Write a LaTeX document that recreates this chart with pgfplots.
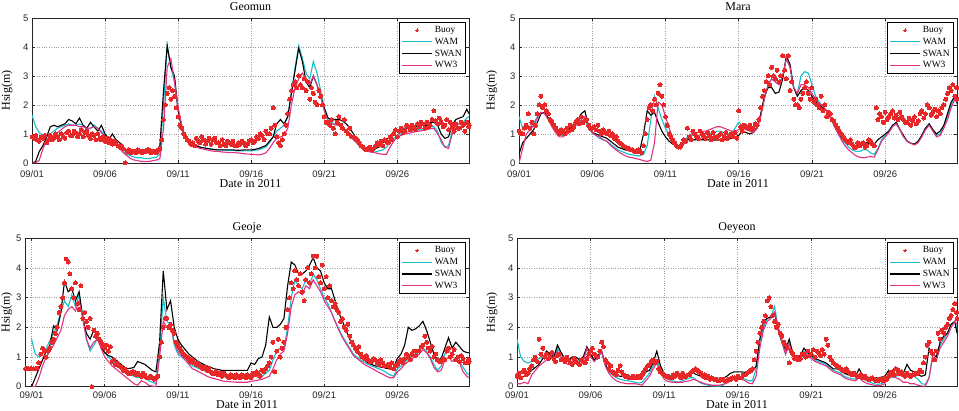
\documentclass[border=0pt]{standalone}
\usepackage{fontspec}
\setmainfont{Liberation Serif}
\newfontfamily\ticksans{Liberation Sans}
\usepackage{pgfplots}
\usepackage{pgfplotstable}
\pgfplotsset{compat=1.18}
\definecolor{buoyred}{RGB}{232,40,40}
\definecolor{wamc}{RGB}{20,190,205}
\definecolor{ww3c}{RGB}{225,50,130}

\pgfplotstableread{
t w s m b1 b2
0.00 1.65 0.00 0.00 0.90 0.85
0.25 1.25 0.05 0.00 0.95 0.80
0.50 1.05 0.40 0.10 0.75 0.90
0.75 0.95 0.60 0.50 0.85 0.95
1.00 0.90 0.90 0.75 0.70 0.80
1.25 1.00 1.25 0.85 0.95 0.80
1.50 1.10 1.30 0.95 0.85 1.00
1.75 1.20 1.25 1.05 0.90 0.80
2.00 1.25 1.30 1.15 1.00 0.90
2.25 1.30 1.35 1.25 0.85 1.05
2.50 1.35 1.50 1.30 1.10 0.95
2.75 1.30 1.45 1.30 0.95 1.10
3.00 1.30 1.35 1.30 1.05 0.90
3.25 1.35 1.55 1.25 1.00 1.15
3.50 1.30 1.30 1.25 0.90 1.05
3.75 1.15 1.20 1.20 1.10 0.95
4.00 1.20 1.40 1.20 0.85 1.00
4.25 1.30 1.25 1.25 0.95 0.80
4.50 1.20 1.10 1.20 1.00 0.85
4.75 1.10 1.30 1.05 0.80 0.90
5.00 0.95 1.00 0.90 0.75 0.85
5.25 0.90 0.80 0.80 0.70 0.80
5.50 0.80 1.00 0.75 0.65 0.75
5.75 0.70 0.80 0.65 0.70 0.60
6.00 0.55 0.70 0.50 0.55 0.60
6.25 0.40 0.50 0.35 0.50 0.00
6.50 0.30 0.40 0.25 0.40 0.45
6.75 0.25 0.40 0.15 0.35 0.40
7.00 0.20 0.38 0.10 0.40 0.35
7.25 0.18 0.40 0.08 0.45 0.40
7.50 0.18 0.40 0.05 0.35 0.40
7.75 0.15 0.42 0.05 0.40 0.45
8.00 0.15 0.40 0.05 0.45 0.35
8.25 0.18 0.40 0.08 0.40 0.40
8.50 0.20 0.42 0.10 0.35 0.45
8.75 0.30 0.60 0.15 0.50 0.80
9.00 2.00 2.50 1.20 1.50 2.00
9.25 4.05 4.05 3.30 2.40 2.60
9.50 3.30 3.30 3.60 2.20 2.50
9.75 2.80 3.00 2.80 2.30 1.90
10.00 1.80 1.80 1.90 1.60 1.30
10.25 1.20 1.20 1.30 1.20 1.00
10.50 0.85 0.90 0.90 0.90 0.80
10.75 0.72 0.75 0.75 0.75 0.65
11.00 0.65 0.65 0.65 0.70 0.60
11.25 0.60 0.60 0.55 0.85 0.75
11.50 0.55 0.55 0.50 0.70 0.90
11.75 0.52 0.52 0.48 0.80 0.65
12.00 0.50 0.50 0.45 0.75 0.85
12.25 0.48 0.48 0.42 0.65 0.80
12.50 0.46 0.46 0.40 0.85 0.70
12.75 0.45 0.45 0.40 0.70 0.60
13.00 0.45 0.45 0.38 0.80 0.65
13.25 0.44 0.45 0.37 0.60 0.75
13.50 0.43 0.45 0.36 0.70 0.65
13.75 0.43 0.45 0.36 0.75 0.60
14.00 0.42 0.44 0.35 0.60 0.70
14.25 0.42 0.44 0.34 0.65 0.75
14.50 0.42 0.45 0.32 0.70 0.60
14.75 0.42 0.45 0.31 0.65 0.75
15.00 0.42 0.45 0.30 0.80 0.70
15.25 0.44 0.47 0.29 0.75 0.90
15.50 0.45 0.50 0.28 0.85 1.00
15.75 0.50 0.55 0.30 0.95 0.80
16.00 0.55 0.60 0.35 1.10 1.00
16.25 0.70 0.75 0.50 1.00 1.20
16.50 0.90 0.90 0.70 1.90 1.30
16.75 1.10 1.35 0.85 0.90 0.70
17.00 1.20 1.50 0.90 0.60 0.80
17.25 1.30 1.35 0.95 1.00 1.30
17.50 1.60 1.60 1.20 1.70 2.20
17.75 2.40 2.40 2.00 2.50 2.70
18.00 3.30 3.20 2.60 2.80 2.60
18.25 4.05 3.95 2.90 3.00 2.70
18.50 3.60 3.50 3.10 2.60 2.90
18.75 3.10 2.80 2.90 2.50 2.80
19.00 2.90 2.60 2.70 2.20 2.60
19.25 3.50 3.00 3.00 2.40 2.10
19.50 3.10 2.70 2.70 2.00 2.50
19.75 2.50 2.30 2.30 2.30 2.00
20.00 1.90 1.90 1.80 1.60 1.40
20.25 1.55 1.55 1.45 1.40 1.30
20.50 1.40 1.50 1.35 1.50 1.20
20.75 1.32 1.50 1.32 1.00 1.40
21.00 1.30 1.50 1.30 1.60 1.30
21.25 1.20 1.45 1.20 1.20 1.50
21.50 1.10 1.35 1.10 1.10 1.00
21.75 0.95 1.20 0.95 1.20 0.90
22.00 0.80 1.00 0.80 0.90 0.85
22.25 0.68 0.80 0.68 0.80 0.70
22.50 0.55 0.65 0.55 0.60 0.55
22.75 0.45 0.50 0.45 0.50 0.45
23.00 0.40 0.45 0.40 0.50 0.55
23.25 0.38 0.45 0.37 0.45 0.50
23.50 0.38 0.50 0.35 0.60 0.70
23.75 0.42 0.55 0.32 0.65 0.75
24.00 0.45 0.70 0.30 0.60 0.80
24.25 0.55 0.80 0.30 0.75 0.70
24.50 0.70 0.90 0.55 0.90 0.80
24.75 0.85 1.10 0.75 1.00 1.15
25.00 0.95 1.10 0.90 0.90 1.10
25.25 1.00 1.20 0.95 1.20 1.05
25.50 1.05 1.20 1.00 1.10 1.30
25.75 1.08 1.20 1.02 1.25 1.15
26.00 1.10 1.25 1.05 1.30 1.20
26.25 1.12 1.25 1.08 1.15 1.35
26.50 1.15 1.25 1.10 1.25 1.40
26.75 1.18 1.30 1.12 1.35 1.20
27.00 1.20 1.30 1.15 1.40 1.25
27.25 1.25 1.40 1.18 1.30 1.50
27.50 1.25 1.40 1.20 1.80 1.45
27.75 1.10 1.30 1.00 1.35 1.55
28.00 0.70 1.00 0.80 1.40 1.25
28.25 0.55 0.85 0.55 1.30 1.50
28.50 0.60 0.90 0.50 1.15 1.40
28.75 1.10 1.30 1.00 1.25 1.10
29.00 1.30 1.50 1.30 1.35 1.20
29.25 1.35 1.55 1.35 1.20 1.40
29.50 1.40 1.60 1.40 1.30 1.10
29.75 1.55 1.85 1.40 1.40 1.25
29.90 1.60 1.70 1.40 1.30 1.30
}\geomun

\pgfplotstableread{
t w s m b1 b2
0.00 1.60 0.30 0.00 1.10 1.00
0.25 1.20 0.70 0.50 1.00 1.20
0.50 1.20 0.85 1.00 1.30 1.70
0.75 1.25 1.00 1.15 1.20 1.40
1.00 1.35 1.15 1.30 1.00 1.30
1.25 1.60 1.40 1.55 1.70 2.00
1.50 1.75 1.70 1.75 2.30 1.90
1.75 1.70 1.75 1.70 2.00 1.80
2.00 1.50 1.55 1.50 1.70 1.50
2.25 1.30 1.35 1.25 1.40 1.30
2.50 1.10 1.15 1.05 1.20 1.10
2.75 0.95 1.05 0.90 1.00 1.15
3.00 0.95 1.00 0.90 1.10 1.00
3.25 1.05 1.10 1.00 1.20 1.10
3.50 1.20 1.20 1.10 1.30 1.15
3.75 1.30 1.35 1.25 1.25 1.40
4.00 1.40 1.45 1.35 1.50 1.35
4.25 1.45 1.70 1.50 1.60 1.40
4.50 1.50 1.80 1.60 1.45 1.50
4.75 1.20 1.25 1.25 1.30 1.20
5.00 1.05 1.05 1.05 1.20 1.25
5.25 0.95 1.00 0.95 1.15 1.30
5.50 0.85 0.95 0.90 1.10 1.00
5.75 0.80 0.90 0.80 1.15 1.05
6.00 0.75 0.85 0.75 1.00 1.10
6.25 0.65 0.75 0.60 0.95 1.00
6.50 0.55 0.65 0.50 0.85 0.90
6.75 0.45 0.55 0.40 0.75 0.70
7.00 0.40 0.50 0.32 0.65 0.60
7.25 0.35 0.45 0.25 0.55 0.50
7.50 0.30 0.42 0.20 0.50 0.45
7.75 0.28 0.40 0.18 0.45 0.40
8.00 0.25 0.38 0.15 0.40 0.45
8.25 0.25 0.45 0.12 0.40 0.35
8.50 0.30 1.00 0.08 0.60 1.00
8.75 0.60 1.80 0.05 1.50 1.90
9.00 1.50 1.65 0.10 2.00 1.80
9.25 2.30 1.75 0.70 2.20 2.00
9.50 1.90 1.40 2.10 2.40 2.70
9.75 1.50 1.10 2.00 2.30 2.00
10.00 1.20 0.90 1.60 1.60 1.30
10.25 0.95 0.75 1.20 1.00 0.90
10.50 0.75 0.65 0.85 0.80 0.70
10.75 0.60 0.60 0.60 0.60 0.55
11.00 0.55 0.60 0.50 0.55 0.65
11.25 0.70 0.75 0.65 0.80 0.75
11.50 0.90 0.80 0.85 1.20 0.90
11.75 0.95 0.80 1.00 0.80 1.10
12.00 0.95 0.80 1.05 1.00 0.90
12.25 0.95 0.80 1.05 0.85 1.10
12.50 0.95 0.80 1.10 1.00 0.90
12.75 1.00 0.80 1.10 0.85 1.05
13.00 1.00 0.80 1.15 0.95 0.80
13.25 1.05 0.80 1.20 1.05 0.90
13.50 1.10 0.78 1.25 0.85 0.95
13.75 1.10 0.80 1.25 1.00 0.80
14.00 1.05 0.80 1.20 0.90 1.05
14.25 1.00 0.82 1.15 0.85 0.95
14.50 1.00 0.85 1.10 1.00 0.90
14.75 1.20 0.90 1.10 1.05 0.85
15.00 1.40 0.95 1.15 1.80 1.25
15.25 1.30 1.10 1.20 1.10 1.30
15.50 1.20 1.05 1.15 1.25 1.20
15.75 1.15 1.00 1.10 1.30 1.15
16.00 1.10 1.05 1.05 1.20 1.35
16.25 1.20 1.20 1.20 1.30 1.50
16.50 1.60 1.70 1.60 1.90 2.30
16.75 2.20 2.30 2.20 2.50 2.80
17.00 2.70 2.60 2.70 3.00 2.70
17.25 2.90 2.60 2.90 3.30 3.00
17.50 2.80 2.40 2.80 2.90 3.20
17.75 2.70 2.45 2.70 2.80 3.00
18.00 3.00 2.90 3.00 3.70 3.20
18.25 3.60 3.70 3.60 2.90 3.70
18.50 3.30 3.40 3.30 2.50 2.80
18.75 2.60 2.60 2.60 2.20 2.00
19.00 2.40 2.30 2.40 2.00 1.90
19.25 3.00 2.50 2.70 2.20 2.40
19.50 3.15 2.60 2.70 2.60 2.80
19.75 3.10 2.50 2.60 2.40 2.20
20.00 2.70 2.30 2.40 2.60 2.10
20.25 2.30 2.10 2.20 2.20 2.00
20.50 2.10 2.00 2.05 1.90 2.30
20.75 1.95 1.90 1.95 1.80 2.00
21.00 1.80 1.80 1.80 1.60 1.75
21.25 1.55 1.60 1.60 1.70 1.50
21.50 1.30 1.35 1.30 1.45 1.30
21.75 1.05 1.10 1.05 1.20 1.10
22.00 0.85 0.90 0.80 1.00 0.90
22.25 0.70 0.75 0.60 0.80 0.75
22.50 0.55 0.65 0.45 0.70 0.80
22.75 0.45 0.60 0.35 0.65 0.55
23.00 0.40 0.60 0.25 0.55 0.70
23.25 0.40 0.65 0.20 0.60 0.65
23.50 0.45 0.70 0.18 0.70 0.55
23.75 0.45 0.70 0.20 0.60 0.80
24.00 0.35 0.65 0.22 0.75 0.65
24.25 0.30 0.65 0.20 0.60 1.90
24.50 0.50 0.80 0.45 1.50 1.70
24.75 0.80 0.90 0.75 1.60 1.40
25.00 0.95 1.00 0.90 1.75 1.50
25.25 1.10 1.10 1.05 1.60 1.70
25.50 1.30 1.30 1.25 1.80 1.55
25.75 1.40 1.40 1.35 1.65 1.50
26.00 1.15 1.15 1.15 1.75 1.60
26.25 0.90 0.95 0.90 1.50 1.40
26.50 0.75 0.75 0.75 1.40 1.55
26.75 0.68 0.68 0.68 1.30 1.45
27.00 0.65 0.65 0.62 1.60 1.35
27.25 0.75 0.75 0.70 1.45 1.70
27.50 0.95 0.95 0.90 1.80 1.55
27.75 1.20 1.20 1.15 1.70 2.00
28.00 1.35 1.35 1.30 1.90 1.65
28.25 1.15 1.15 1.10 1.75 1.85
28.50 0.95 1.00 0.90 1.60 1.80
28.75 1.00 1.10 0.95 1.70 1.90
29.00 1.25 1.30 1.20 2.00 2.20
29.25 1.60 1.70 1.50 2.40 2.60
29.50 2.00 2.10 1.90 2.50 2.70
29.75 2.30 2.30 2.20 2.30 2.60
29.90 2.10 2.05 2.10 2.20 2.00
}\mara

\pgfplotstableread{
t w s m b1 b2
0.00 1.60 0.00 0.00 0.60 0.60
0.25 1.10 0.30 0.00 0.60 0.62
0.50 1.00 0.60 0.30 0.80 1.10
0.75 1.10 0.90 0.70 1.30 1.20
1.00 1.30 1.20 1.00 1.00 1.20
1.25 1.55 1.40 1.20 1.30 1.50
1.50 1.80 2.05 1.40 1.60 1.80
1.75 2.10 1.90 1.65 2.00 2.50
2.00 2.50 2.50 1.90 2.70 3.00
2.25 2.90 3.55 2.40 3.50 4.30
2.50 2.70 3.20 2.60 4.20 3.80
2.75 3.10 3.30 2.70 3.30 3.00
3.00 2.70 2.90 2.55 3.50 2.80
3.25 3.10 3.20 2.90 2.60 3.40
3.50 2.40 2.30 2.30 2.30 2.50
3.75 1.60 1.80 1.60 2.20 2.00
4.00 1.20 1.60 1.30 2.30 0.00
4.25 1.40 1.90 1.50 1.90 1.70
4.50 1.60 1.75 1.60 1.80 1.60
4.75 1.35 1.30 1.30 1.50 1.40
5.00 1.15 1.15 1.00 1.30 1.40
5.25 1.00 1.05 0.85 1.20 1.35
5.50 0.90 1.00 0.70 0.85 0.90
5.75 0.80 0.90 0.60 0.75 0.80
6.00 0.70 0.80 0.50 0.70 0.65
6.25 0.60 0.70 0.40 0.55 0.60
6.50 0.50 0.60 0.30 0.50 0.45
6.75 0.42 0.62 0.20 0.45 0.50
7.00 0.35 0.65 0.10 0.50 0.40
7.25 0.30 0.85 0.05 0.45 0.40
7.50 0.40 0.80 0.20 0.35 0.45
7.75 0.35 0.75 0.15 0.40 0.30
8.00 0.20 0.65 0.05 0.30 0.35
8.25 0.15 0.55 0.02 0.30 0.25
8.50 0.10 0.50 0.00 0.30 0.35
8.75 1.20 1.50 1.00 1.00 1.50
9.00 3.00 3.90 2.20 2.00 2.30
9.25 2.20 2.60 2.00 2.30 2.00
9.50 2.10 2.90 2.10 2.10 1.90
9.75 1.40 2.00 1.50 1.80 1.50
10.00 1.10 1.60 1.20 1.40 1.30
10.25 1.00 1.40 1.05 1.20 1.10
10.50 0.90 1.25 0.90 1.05 1.00
10.75 0.80 1.10 0.75 0.95 0.85
11.00 0.70 1.00 0.60 0.90 0.80
11.25 0.65 0.90 0.55 0.75 0.80
11.50 0.60 0.82 0.48 0.70 0.65
11.75 0.55 0.75 0.42 0.60 0.65
12.00 0.50 0.70 0.35 0.55 0.60
12.25 0.45 0.65 0.30 0.50 0.45
12.50 0.42 0.60 0.27 0.45 0.50
12.75 0.38 0.58 0.24 0.40 0.45
13.00 0.35 0.55 0.20 0.35 0.45
13.25 0.33 0.55 0.18 0.40 0.35
13.50 0.32 0.55 0.17 0.30 0.40
13.75 0.31 0.55 0.16 0.35 0.30
14.00 0.30 0.55 0.15 0.40 0.35
14.25 0.30 0.55 0.15 0.30 0.40
14.50 0.30 0.55 0.15 0.35 0.30
14.75 0.30 0.55 0.15 0.40 0.35
15.00 0.35 0.80 0.18 0.30 0.45
15.25 0.40 0.75 0.20 0.40 0.50
15.50 0.30 0.95 0.22 0.45 0.35
15.75 0.35 1.00 0.25 0.55 0.50
16.00 0.45 1.40 0.30 0.60 0.70
16.25 0.55 2.35 0.35 0.80 1.00
16.50 0.90 2.00 0.60 1.50 0.50
16.75 1.20 2.00 0.90 1.20 1.60
17.00 1.30 2.10 1.10 1.00 1.30
17.25 1.25 2.30 1.20 1.50 2.00
17.50 2.00 3.40 1.80 2.60 3.00
17.75 3.00 4.20 2.70 3.50 3.30
18.00 3.60 4.10 3.10 3.90 3.60
18.25 3.40 3.80 3.20 3.40 3.80
18.50 3.30 3.80 3.10 3.20 2.90
18.75 3.60 3.90 3.40 3.60 4.00
19.00 3.40 4.10 3.30 3.50 3.80
19.25 3.80 4.35 3.60 4.40 4.00
19.50 3.60 4.00 3.40 4.40 3.70
19.75 3.30 3.90 3.20 3.50 4.10
20.00 3.00 3.50 2.90 3.30 3.70
20.25 2.80 3.30 2.70 3.00 3.40
20.50 2.50 3.30 2.50 2.90 2.70
20.75 2.20 2.90 2.20 2.80 2.60
21.00 1.95 2.50 1.90 2.50 2.20
21.25 1.70 2.20 1.65 2.30 2.00
21.50 1.50 1.90 1.45 1.90 2.10
21.75 1.30 1.60 1.25 1.70 1.50
22.00 1.10 1.35 1.05 1.40 1.30
22.25 1.00 1.15 0.95 1.20 1.35
22.50 0.90 1.00 0.85 1.10 1.00
22.75 0.82 0.90 0.75 0.95 1.05
23.00 0.75 0.80 0.68 0.90 0.85
23.25 0.70 0.75 0.62 0.85 0.95
23.50 0.65 0.70 0.55 0.90 0.80
23.75 0.60 0.67 0.48 0.75 0.90
24.00 0.55 0.65 0.42 0.80 0.70
24.25 0.48 0.62 0.35 0.70 0.75
24.50 0.40 0.60 0.30 0.65 0.80
24.75 0.35 0.65 0.30 0.60 0.70
25.00 0.60 0.95 0.50 0.75 0.85
25.25 0.70 1.10 0.60 0.90 0.80
25.50 0.80 1.40 0.75 0.95 1.10
25.75 0.95 2.00 0.85 1.00 0.90
26.00 1.05 1.90 0.95 1.10 1.20
26.25 1.10 1.95 1.00 1.05 1.20
26.50 1.25 2.05 1.10 1.20 1.35
26.75 1.30 2.20 1.25 1.40 1.70
27.00 1.20 1.90 1.15 1.50 1.30
27.25 1.00 1.50 0.95 1.20 1.35
27.50 0.75 1.10 0.65 1.00 1.10
27.75 0.55 0.90 0.50 0.90 0.85
28.00 0.70 0.95 0.55 0.85 0.95
28.25 1.10 1.30 0.90 0.90 1.20
28.50 1.30 1.65 1.00 1.30 1.00
28.75 1.00 1.30 0.85 1.10 1.25
29.00 0.95 1.50 0.90 0.90 1.00
29.25 0.85 1.35 0.80 0.85 1.05
29.50 0.65 1.20 0.50 0.95 0.80
29.75 0.45 1.15 0.35 0.80 0.90
29.90 0.40 1.15 0.30 0.85 0.80
}\geoje

\pgfplotstableread{
t w s m b1 b2
0.00 1.60 0.30 0.10 0.35 0.45
0.25 1.00 0.35 0.10 0.30 0.50
0.50 0.85 0.35 0.15 0.55 0.40
0.75 0.80 0.45 0.10 0.45 0.60
1.00 0.85 0.55 0.40 0.70 0.90
1.25 0.90 0.65 0.55 1.00 0.85
1.50 0.95 0.75 0.70 1.60 1.10
1.75 1.00 0.95 0.80 1.30 1.00
2.00 1.05 1.20 0.90 1.10 0.95
2.25 1.10 1.10 1.00 1.00 1.15
2.50 1.00 1.00 0.95 0.95 0.85
2.75 1.30 1.40 1.20 1.05 1.10
3.00 1.10 1.15 1.00 0.90 0.95
3.25 0.90 0.95 0.80 0.85 1.00
3.50 0.85 0.90 0.75 0.90 0.80
3.75 0.95 1.00 0.85 0.75 0.95
4.00 0.90 1.00 0.80 0.85 0.80
4.25 0.85 0.90 0.75 0.75 0.90
4.50 0.90 1.00 0.85 0.85 0.80
4.75 1.30 1.35 1.30 0.95 1.10
5.00 1.05 1.10 1.00 1.20 1.30
5.25 0.85 0.90 0.85 1.10 1.05
5.50 1.00 1.05 1.00 1.00 1.20
5.75 1.15 1.20 1.20 1.50 1.35
6.00 0.70 0.75 0.70 0.90 0.80
6.25 0.50 0.55 0.45 0.60 0.70
6.50 0.40 0.45 0.30 0.50 0.45
6.75 0.30 0.40 0.20 0.40 0.55
7.00 0.25 0.35 0.15 0.70 0.50
7.25 0.22 0.35 0.12 0.40 0.35
7.50 0.20 0.35 0.10 0.35 0.30
7.75 0.18 0.35 0.10 0.30 0.35
8.00 0.15 0.35 0.10 0.30 0.30
8.25 0.12 0.38 0.08 0.35 0.30
8.50 0.15 0.40 0.05 0.40 0.50
8.75 0.30 0.50 0.20 0.60 0.70
9.00 0.45 0.55 0.35 0.75 0.85
9.25 0.70 0.80 0.60 0.90 0.80
9.50 0.90 1.20 0.80 0.85 0.60
9.75 0.60 0.70 0.50 0.50 0.45
10.00 0.35 0.45 0.25 0.40 0.35
10.25 0.25 0.38 0.18 0.35 0.30
10.50 0.20 0.35 0.15 0.30 0.40
10.75 0.18 0.35 0.15 0.35 0.45
11.00 0.15 0.35 0.15 0.40 0.30
11.25 0.20 0.38 0.15 0.45 0.35
11.50 0.25 0.40 0.18 0.35 0.40
11.75 0.30 0.45 0.20 0.40 0.50
12.00 0.30 0.45 0.25 0.55 0.60
12.25 0.20 0.40 0.20 0.55 0.50
12.50 0.12 0.35 0.15 0.45 0.35
12.75 0.08 0.30 0.10 0.40 0.30
13.00 0.05 0.28 0.08 0.35 0.25
13.25 0.03 0.25 0.05 0.30 0.25
13.50 0.02 0.25 0.05 0.25 0.20
13.75 0.02 0.25 0.05 0.20 0.25
14.00 0.05 0.28 0.08 0.25 0.20
14.25 0.15 0.35 0.12 0.20 0.25
14.50 0.30 0.45 0.20 0.25 0.30
14.75 0.35 0.50 0.25 0.30 0.25
15.00 0.35 0.50 0.25 0.35 0.30
15.25 0.30 0.50 0.25 0.30 0.40
15.50 0.25 0.48 0.20 0.40 0.45
15.75 0.20 0.45 0.12 0.50 0.55
16.00 0.20 0.50 0.10 0.60 0.90
16.25 0.60 0.70 0.35 1.20 1.50
16.50 1.50 1.60 1.30 1.80 2.00
16.75 2.00 2.20 1.90 2.20 2.40
17.00 2.30 2.30 2.20 2.90 3.00
17.25 2.35 2.35 2.30 2.70 2.40
17.50 2.70 2.50 2.50 2.20 2.00
17.75 2.00 1.90 2.00 2.10 1.80
18.00 1.50 1.50 1.50 1.70 1.50
18.25 1.10 1.25 1.10 1.40 1.30
18.50 1.50 1.60 1.45 0.80 1.20
18.75 1.10 1.10 1.00 1.10 0.95
19.00 0.90 0.95 0.85 1.00 0.90
19.25 1.00 1.05 0.95 0.95 1.10
19.50 1.20 1.30 1.15 1.10 1.00
19.75 1.10 1.15 1.05 1.20 1.05
20.00 1.00 1.05 0.95 1.10 1.25
20.25 0.90 0.95 0.85 1.00 1.20
20.50 0.85 0.90 0.80 1.15 1.05
20.75 0.80 0.85 0.75 1.25 1.10
21.00 0.75 0.80 0.70 1.60 1.40
21.25 0.65 0.70 0.60 1.00 0.90
21.50 0.55 0.60 0.50 0.80 0.75
21.75 0.50 0.60 0.45 0.70 0.65
22.00 0.45 0.55 0.40 0.60 0.55
22.25 0.35 0.45 0.30 0.55 0.60
22.50 0.30 0.40 0.25 0.50 0.45
22.75 0.28 0.38 0.22 0.40 0.45
23.00 0.25 0.35 0.20 0.40 0.35
23.25 0.40 0.60 0.30 0.35 0.40
23.50 0.25 0.35 0.18 0.30 0.35
23.75 0.20 0.32 0.12 0.30 0.25
24.00 0.15 0.30 0.08 0.25 0.30
24.25 0.10 0.30 0.05 0.25 0.20
24.50 0.08 0.30 0.03 0.20 0.25
24.75 0.10 0.32 0.05 0.25 0.20
25.00 0.15 0.35 0.10 0.30 0.25
25.25 0.40 0.55 0.40 0.35 0.45
25.50 0.30 0.40 0.35 0.50 0.40
25.75 0.35 0.40 0.30 0.60 0.55
26.00 0.40 0.50 0.25 0.45 0.50
26.25 0.35 0.45 0.15 0.40 0.35
26.50 0.45 0.75 0.15 0.45 0.40
26.75 0.40 0.55 0.10 0.35 0.40
27.00 0.35 0.50 0.10 0.40 0.45
27.25 0.25 0.40 0.05 0.45 0.55
27.50 0.10 0.35 0.02 0.50 0.80
27.75 0.08 0.40 0.02 1.00 1.40
28.00 0.30 1.30 0.30 1.50 1.20
28.25 1.10 1.10 1.00 1.10 0.90
28.50 1.00 1.00 0.90 1.20 1.80
28.75 1.40 1.50 1.30 1.60 1.90
29.00 1.60 1.70 1.50 1.80 2.00
29.25 1.80 1.80 1.70 2.10 2.30
29.50 2.10 2.10 2.00 2.40 2.60
29.75 2.20 2.20 2.20 2.80 2.50
29.90 1.90 1.80 2.10 2.30 2.90
}\oeyeon

\pgfplotsset{
  buoystyle/.style={only marks, mark=*, mark size=2pt, color=buoyred, mark options={draw=buoyred, fill=buoyred, line width=0pt}},
  wamstyle/.style={color=wamc, line width=1.1pt, no marks},
  swanstyle/.style={color=black, line width=1.1pt, no marks},
  ww3style/.style={color=ww3c, line width=1.1pt, no marks},
  buoyleg/.style={buoystyle, legend image code/.code={\draw[##1, mark repeat=2, mark phase=2, mark size=1.3pt] plot coordinates {(0pt,0pt)(15pt,0pt)(30pt,0pt)};}},
  lineleg/.style={legend image code/.code={\draw[##1] (0pt,0pt) -- (30pt,0pt);}},
  panel/.style={
    scale only axis, anchor=south west,
    xmin=0, xmax=29.9, ymin=0, ymax=5,
    xtick={0,5,10,15,20,25},
    xticklabels={09/01,09/06,09/11,09/16,09/21,09/26},
    ytick={0,1,2,3,4,5},
    tick align=inside, major tick length=3pt,
    grid=major,
    major grid style={dotted, gray!75, line width=0.5pt},
    axis line style={line width=0.7pt, black!85},
    tick style={black!85, line width=0.5pt},
    ticklabel style={font=\ticksans\fontsize{9.5}{10}\selectfont, text=black!85},
    xticklabel style={inner sep=1pt, yshift=-6.2pt},
    /pgf/number format/assume math mode=true,
    xlabel={Date in 2011}, ylabel={Hsig(m)},
    label style={font=\fontsize{12}{13}\selectfont},
    xlabel style={at={(axis description cs:0.5,0)}, anchor=base, yshift=-25pt, inner sep=1pt},
    title style={font=\fontsize{12}{13}\selectfont, at={(axis description cs:0.5,1)}, anchor=base, yshift=1.5pt, inner sep=0pt},
    legend style={at={(axis description cs:1,1)}, anchor=north east, xshift=-3pt, yshift=-4pt,
      font=\fontsize{9.5}{10}\selectfont, draw=black, line width=0.6pt,
      inner xsep=2pt, inner ysep=2pt, row sep=0pt},
    legend cell align=left,
  }
}

\newcommand{\legendset}{%
  \addlegendimage{buoyleg}
  \addlegendentry{Buoy}
  \addlegendimage{wamstyle, lineleg}
  \addlegendentry{WAM}
  \addlegendimage{swanstyle, lineleg}
  \addlegendentry{SWAN}
  \addlegendimage{ww3style, lineleg}
  \addlegendentry{WW3}
}

\newcommand{\panelplots}[1]{%
  \addplot[buoystyle, forget plot] table[x=t, y=b1] {#1};
  \addplot[buoystyle, forget plot] table[x expr=\thisrow{t}+0.125, y=b2] {#1};
  \addplot[wamstyle, forget plot] table[x=t, y=w] {#1};
  \addplot[swanstyle, forget plot] table[x=t, y=s] {#1};
  \addplot[ww3style, forget plot] table[x=t, y=m] {#1};
}

\begin{document}
\begin{tikzpicture}
\useasboundingbox (0,0) rectangle (959pt,411pt);

\begin{axis}[panel, at={(32pt,248pt)}, width=437pt, height=145pt, title={Geomun},
  ylabel style={at={(axis description cs:-0.057,0.5)}, anchor=center}]
\legendset
\panelplots{\geomun}
\end{axis}

\begin{axis}[panel, at={(519pt,248pt)}, width=438pt, height=145pt, title={Mara},
  ylabel style={at={(axis description cs:-0.062,0.5)}, anchor=center}]
\legendset
\panelplots{\mara}
\end{axis}

\begin{axis}[panel, at={(25pt,24.3pt)}, width=444pt, height=148.4pt, title={Geoje},
  xmin=-0.45,
  ylabel style={at={(axis description cs:-0.041,0.5)}, anchor=center},
  xticklabel style={yshift=2.5pt},
  xlabel style={yshift=3pt}]
\legendset
\addplot[buoystyle, forget plot] coordinates {(-0.4,0.6) (-0.3,0.62) (-0.2,0.6) (-0.1,0.6)};
\panelplots{\geoje}
\end{axis}

\begin{axis}[panel, at={(517pt,24.3pt)}, width=440pt, height=148.4pt, title={Oeyeon},
  ylabel style={at={(axis description cs:-0.057,0.5)}, anchor=center},
  xticklabel style={yshift=2.5pt},
  xlabel style={yshift=3pt}]
\legendset
\panelplots{\oeyeon}
\end{axis}
\end{tikzpicture}
\end{document}
